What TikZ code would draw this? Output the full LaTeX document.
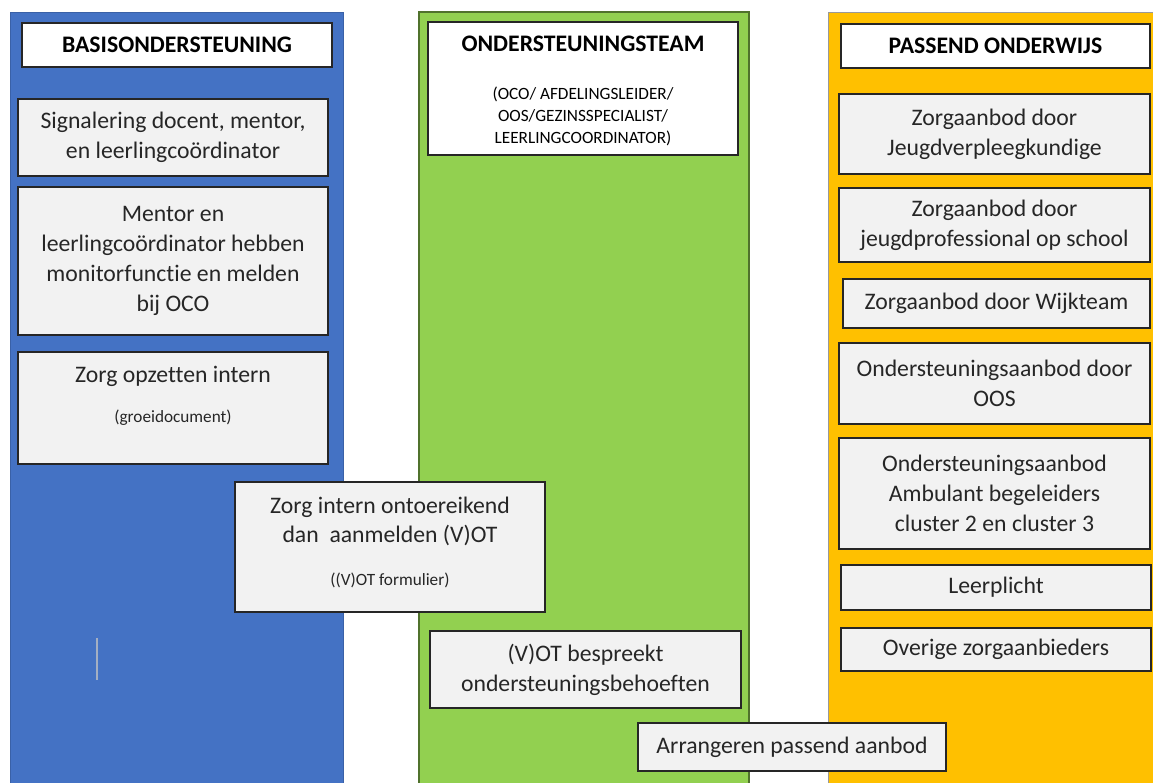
\documentclass[tikz,border=0pt]{standalone}
\usepackage{fontspec}
\setmainfont{Carlito}[Ligatures=NoCommon]
\definecolor{basisblue}{HTML}{4472C4}
\definecolor{teamgreen}{HTML}{92D050}
\definecolor{passorange}{HTML}{FFC000}
\definecolor{boxgray}{HTML}{F2F2F2}
\definecolor{inkgray}{HTML}{262626}
\newcommand{\smalltxt}[1]{{\fontsize{9.8}{12.5}\selectfont\mdseries #1}}
\tikzset{
  headbox/.style={draw=inkgray, fill=white, line width=0.8pt, inner sep=0pt,
    align=center, text=black, font=\fontsize{13.5}{17}\selectfont\bfseries},
  itembox/.style={draw=inkgray, fill=boxgray, line width=0.8pt, inner sep=0pt,
    align=center, text=inkgray, font=\fontsize{13.5}{17}\selectfont},
  itemtext/.style={inner sep=0pt, align=center, text=inkgray,
    font=\fontsize{13.5}{17}\selectfont}
}
\begin{document}
\begin{tikzpicture}[x=0.02cm, y=-0.02cm]
\useasboundingbox (0,0) rectangle (1153,782);
% columns
\filldraw[fill=basisblue, draw=basisblue!85!black, line width=0.5pt] (10,12) rectangle (343,790);
\filldraw[fill=teamgreen, draw=teamgreen!55!black, line width=0.6pt] (419,12) rectangle (749,790);
\filldraw[fill=passorange, draw=gray!80, line width=0.5pt] (828,12) rectangle (1160,790);
\draw[gray!60!basisblue!60!white, line width=0.8pt] (97,638) -- (97,680);

% Basisondersteuning
\node[headbox, minimum width=6.2cm, minimum height=0.88cm] (basis) at (177,45) {BASISONDERSTEUNING};
\node[itembox, minimum width=6.2cm, minimum height=1.54cm] (signaal) at (173,137.5)
  {Signalering docent, mentor,\\en leerlingcoördinator};
\node[itembox, minimum width=6.2cm, minimum height=2.96cm] (monitor) at (173,261)
  {Mentor en\\leerlingcoördinator hebben\\monitorfunctie en melden\\bij OCO};
\node[itembox, minimum width=6.2cm, minimum height=2.24cm] (intern) at (173,408) {};
\node[itemtext] (interntxt) at (173,396) {Zorg opzetten intern\\[6pt]\smalltxt{(groeidocument)}};

% Ondersteuningsteam
\node[headbox, minimum width=6.2cm, minimum height=2.66cm] (team) at (583,88.5) {};
\node[itemtext, text=black, font=\fontsize{13.5}{17}\selectfont\bfseries] (teamtxt) at (583,93)
  {ONDERSTEUNINGSTEAM\\[10pt]\smalltxt{\begin{tabular}[t]{@{}c@{}}(OCO/ AFDELINGSLEIDER/\\OOS/GEZINSSPECIALIST/\\LEERLINGCOORDINATOR)\end{tabular}}};
\node[itembox, minimum width=6.2cm, minimum height=2.6cm] (aanmeld) at (390,547) {};
\node[itemtext] (aanmeldtxt) at (390,542)
  {Zorg intern ontoereikend\\dan~ aanmelden (V)OT\\[7pt]\smalltxt{((V)OT formulier)}};
\node[itembox, minimum width=6.22cm, minimum height=1.54cm] (bespreek) at (585.5,669.5)
  {(V)OT bespreekt\\ondersteuningsbehoeften};
\node[itembox, minimum width=6.16cm, minimum height=0.96cm] (arrangeer) at (792,747)
  {Arrangeren passend aanbod};

% Passend onderwijs
\node[headbox, minimum width=6.18cm, minimum height=0.88cm] (passend) at (995.5,46) {PASSEND ONDERWIJS};
\node[itembox, minimum width=6.22cm, minimum height=1.6cm] (jvk) at (994.5,134)
  {Zorgaanbod door\\Jeugdverpleegkundige};
\node[itembox, minimum width=6.22cm, minimum height=1.48cm] (jprof) at (994.5,225)
  {Zorgaanbod door\\jeugdprofessional op school};
\node[itembox, minimum width=6.14cm, minimum height=0.98cm] (wijk) at (996.5,303.5)
  {Zorgaanbod door Wijkteam};
\node[itembox, minimum width=6.22cm, minimum height=1.62cm] (oos) at (994.5,383.5)
  {Ondersteuningsaanbod door\\OOS};
\node[itembox, minimum width=6.22cm, minimum height=2.22cm] (ambulant) at (994.5,493.5)
  {Ondersteuningsaanbod\\Ambulant begeleiders\\cluster 2 en cluster 3};
\node[itembox, minimum width=6.2cm, minimum height=0.9cm] (leerplicht) at (996,587.5) {Leerplicht};
\node[itembox, minimum width=6.2cm, minimum height=0.86cm] (overig) at (996,649.5) {Overige zorgaanbieders};
\end{tikzpicture}
\end{document}
